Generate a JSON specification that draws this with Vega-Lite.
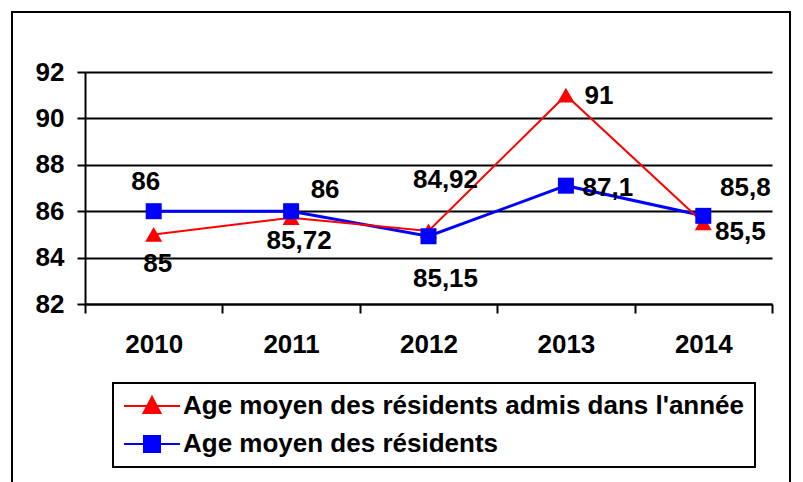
{
  "$schema": "https://vega.github.io/schema/vega-lite/v6.json",
  "width": 778,
  "height": 474,
  "autosize": "none",
  "padding": {"left": 12, "top": 12, "right": 13, "bottom": -4},
  "background": "white",
  "config": {
    "view": {"stroke": "black", "strokeWidth": 2},
    "locale": {"number": {"decimal": ",", "thousands": " ", "grouping": [3], "currency": ["", " €"]}},
    "text": {"font": "Liberation Sans", "fontWeight": "bold", "fontSize": 26, "color": "black"}
  },
  "data": {
    "values": [
      {"year": 2010, "serie": "Age moyen des résidents admis dans l'année", "v": 85},
      {"year": 2011, "serie": "Age moyen des résidents admis dans l'année", "v": 85.72},
      {"year": 2012, "serie": "Age moyen des résidents admis dans l'année", "v": 85.15},
      {"year": 2013, "serie": "Age moyen des résidents admis dans l'année", "v": 91},
      {"year": 2014, "serie": "Age moyen des résidents admis dans l'année", "v": 85.5},
      {"year": 2010, "serie": "Age moyen des résidents", "v": 86},
      {"year": 2011, "serie": "Age moyen des résidents", "v": 86},
      {"year": 2012, "serie": "Age moyen des résidents", "v": 84.92},
      {"year": 2013, "serie": "Age moyen des résidents", "v": 87.1},
      {"year": 2014, "serie": "Age moyen des résidents", "v": 85.8}
    ]
  },
  "encoding": {
    "x": {
      "field": "year", "type": "quantitative",
      "scale": {"domain": [2009.5, 2014.5], "range": [73, 760], "nice": false, "zero": false},
      "axis": {
        "orient": "bottom", "offset": -182, "title": null,
        "values": [2009.5, 2010, 2010.5, 2011, 2011.5, 2012, 2012.5, 2013, 2013.5, 2014, 2014.5],
        "labelExpr": "datum.value % 1 === 0 ? format(datum.value, 'd') : ''",
        "tickOpacity": {"condition": {"test": "datum.value % 1 === 0", "value": 0}, "value": 1},
        "tickColor": "black", "tickWidth": 2, "tickSize": 9,
        "domainColor": "black", "domainWidth": 2,
        "grid": false,
        "labelFont": "Liberation Sans", "labelFontWeight": "bold", "labelFontSize": 26, "labelColor": "black",
        "labelPadding": 18, "labelFlush": false, "labelOverlap": false
      }
    },
    "y": {
      "field": "v", "type": "quantitative",
      "scale": {"domain": [82, 92], "range": [292, 60], "nice": false, "zero": false},
      "axis": {
        "orient": "left", "offset": -73, "title": null,
        "values": [82, 84, 86, 88, 90, 92],
        "tickColor": "black", "tickWidth": 2, "tickSize": 8,
        "domainColor": "black", "domainWidth": 2,
        "grid": true, "gridColor": "black", "gridWidth": 2,
        "labelFont": "Liberation Sans", "labelFontWeight": "bold", "labelFontSize": 26, "labelColor": "black",
        "labelPadding": 13
      }
    }
  },
  "layer": [
    {
      "data": {"values": [{}]},
      "mark": {"type": "rule", "color": "black", "strokeWidth": 2},
      "encoding": {"x": {"datum": 2014.5}, "y": {"datum": 82}, "y2": {"datum": 92}}
    },
    {
      "transform": [{"filter": "datum.serie === 'Age moyen des résidents'"}],
      "mark": {"type": "line", "strokeWidth": 3},
      "encoding": {
        "color": {
          "field": "serie", "type": "nominal",
          "scale": {"domain": ["Age moyen des résidents admis dans l'année", "Age moyen des résidents"], "range": ["#ff0000", "#0000ff"]},
          "legend": {
            "orient": "none", "legendX": 101, "legendY": 371, "title": null,
            "strokeColor": "black", "padding": 10, "rowPadding": 12,
            "labelFont": "Liberation Sans", "labelFontSize": 26, "labelFontWeight": "bold", "labelColor": "black",
            "labelLimit": 1000, "labelOffset": 18,
            "symbolSize": 400, "symbolStrokeWidth": 2, "symbolOffset": 16,
            "encode": {
              "legend": {"update": {"strokeWidth": {"value": 2}}},
              "symbols": {"update": {
                "shape": {"signal": "datum.value === 'Age moyen des résidents' ? 'M-2.8,0L2.8,0M-0.8,-0.8L0.8,-0.8L0.8,0.8L-0.8,0.8Z' : 'M-2.8,0L2.8,0M0,-0.9L0.85,0.7L-0.85,0.7Z'"},
                "fill": {"scale": "color", "field": "value"},
                "stroke": {"scale": "color", "field": "value"},
                "strokeWidth": {"value": 2},
                "opacity": {"value": 1}
              }}
            }
          }
        }
      }
    },
    {
      "transform": [{"filter": "datum.serie !== 'Age moyen des résidents'"}],
      "mark": {"type": "line", "strokeWidth": 2},
      "encoding": {"color": {"field": "serie", "type": "nominal"}}
    },
    {
      "transform": [{"filter": "datum.serie !== 'Age moyen des résidents'"}],
      "mark": {"type": "point", "shape": "triangle-up", "filled": true, "size": 290, "opacity": 1},
      "encoding": {"color": {"field": "serie", "type": "nominal"}}
    },
    {
      "transform": [{"filter": "datum.serie === 'Age moyen des résidents'"}],
      "mark": {"type": "point", "shape": "square", "filled": true, "size": 256, "opacity": 1},
      "encoding": {"color": {"field": "serie", "type": "nominal"}}
    },
    {"transform": [{"filter": "datum.serie !== 'Age moyen des résidents' && datum.year === 2010"}],
     "mark": {"type": "text", "dx": 4, "dy": 30}, "encoding": {"text": {"field": "v", "type": "quantitative", "format": "~g"}}},
    {"transform": [{"filter": "datum.serie !== 'Age moyen des résidents' && datum.year === 2011"}],
     "mark": {"type": "text", "dx": 8, "dy": 23}, "encoding": {"text": {"field": "v", "type": "quantitative", "format": "~g"}}},
    {"transform": [{"filter": "datum.serie !== 'Age moyen des résidents' && datum.year === 2012"}],
     "mark": {"type": "text", "dx": 17, "dy": 48}, "encoding": {"text": {"field": "v", "type": "quantitative", "format": "~g"}}},
    {"transform": [{"filter": "datum.serie !== 'Age moyen des résidents' && datum.year === 2013"}],
     "mark": {"type": "text", "dx": 33, "dy": 1}, "encoding": {"text": {"field": "v", "type": "quantitative", "format": "~g"}}},
    {"transform": [{"filter": "datum.serie !== 'Age moyen des résidents' && datum.year === 2014"}],
     "mark": {"type": "text", "dx": 37, "dy": 9}, "encoding": {"text": {"field": "v", "type": "quantitative", "format": "~g"}}},
    {"transform": [{"filter": "datum.serie === 'Age moyen des résidents' && datum.year === 2010"}],
     "mark": {"type": "text", "dx": -8, "dy": -29}, "encoding": {"text": {"field": "v", "type": "quantitative", "format": "~g"}}},
    {"transform": [{"filter": "datum.serie === 'Age moyen des résidents' && datum.year === 2011"}],
     "mark": {"type": "text", "dx": 34, "dy": -21}, "encoding": {"text": {"field": "v", "type": "quantitative", "format": "~g"}}},
    {"transform": [{"filter": "datum.serie === 'Age moyen des résidents' && datum.year === 2012"}],
     "mark": {"type": "text", "dx": 17, "dy": -56}, "encoding": {"text": {"field": "v", "type": "quantitative", "format": "~g"}}},
    {"transform": [{"filter": "datum.serie === 'Age moyen des résidents' && datum.year === 2013"}],
     "mark": {"type": "text", "dx": 42, "dy": 2}, "encoding": {"text": {"field": "v", "type": "quantitative", "format": "~g"}}},
    {"transform": [{"filter": "datum.serie === 'Age moyen des résidents' && datum.year === 2014"}],
     "mark": {"type": "text", "dx": 42, "dy": -28}, "encoding": {"text": {"field": "v", "type": "quantitative", "format": "~g"}}}
  ]
}
